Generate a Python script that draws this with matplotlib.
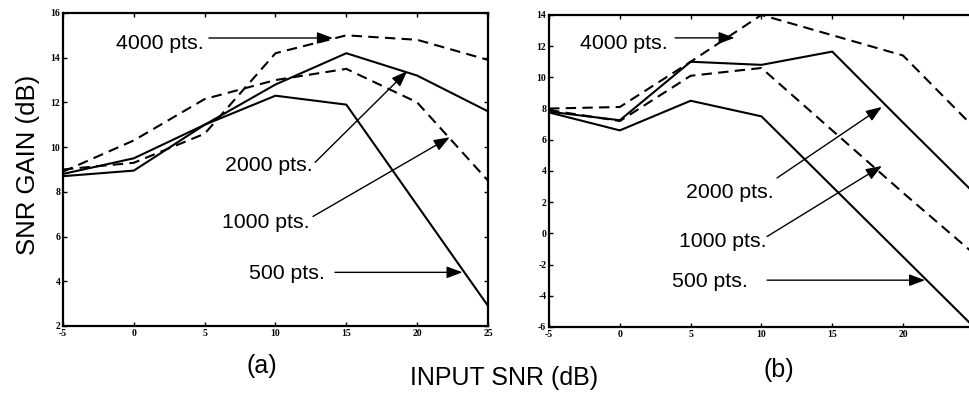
import matplotlib
matplotlib.use("Agg")
import matplotlib.pyplot as plt

# Input SNR values (dB) shared by both panels
snr_in = [-5, 0, 5, 10, 15, 20, 25]

# Panel (a): SNR gain (dB) by record length
gain_a_500 = [8.7, 8.95, 11.0, 12.3, 11.9, 7.4, 2.9]
gain_a_1000 = [8.9, 10.3, 12.15, 13.0, 13.5, 12.0, 8.5]
gain_a_2000 = [8.8, 9.5, 11.0, 12.8, 14.2, 13.2, 11.6]
gain_a_4000 = [9.0, 9.3, 10.6, 14.2, 15.0, 14.8, 13.9]

# Panel (b): SNR gain (dB) by record length
gain_b_500 = [7.75, 6.6, 8.5, 7.5, 3.0, -1.5, -6.0]
gain_b_1000 = [7.9, 7.2, 10.1, 10.6, 6.6, 2.6, -1.3]
gain_b_2000 = [7.8, 7.25, 11.0, 10.8, 11.65, 7.1, 2.6]
gain_b_4000 = [8.0, 8.1, 11.0, 14.0, 12.7, 11.4, 6.8]

labels = ["500 pts.", "1000 pts.", "2000 pts.", "4000 pts."]

# label text centre, arrow tail, arrow tip (data coords)
notes_a = {
    "4000 pts.": ((1.8, 14.64), (5.3, 14.88), (14.05, 14.88)),
    "2000 pts.": ((9.54, 9.19), (12.8, 9.32), (19.3, 13.4)),
    "1000 pts.": ((9.33, 6.63), (12.65, 6.9), (22.3, 10.44)),
    "500 pts.": ((10.77, 4.36), (14.2, 4.4), (23.2, 4.4)),
}
notes_b = {
    "4000 pts.": ((0.26, 12.2), (3.9, 12.53), (8.1, 12.53)),
    "2000 pts.": ((7.78, 2.59), (11.1, 3.55), (18.5, 8.1)),
    "1000 pts.": ((7.25, -0.55), (10.4, -0.2), (18.5, 4.32)),
    "500 pts.": ((6.37, -3.1), (10.4, -3.0), (21.55, -3.0)),
}

SANS = "Liberation Sans"
DASH = (0, (5, 3))

plt.rcParams["axes.unicode_minus"] = False

fig = plt.figure(figsize=(9.69, 3.93), dpi=100)
ax_a = fig.add_axes([0.065, 0.1705, 0.4386, 0.7965])
ax_b = fig.add_axes([0.5666, 0.168, 0.4384, 0.794])


def draw_panel(ax, series, notes, ylim, yticks):
    styles = ["-", DASH, "-", DASH]
    for ys, ls in zip(series, styles):
        ax.plot(snr_in, ys, color="black", lw=1.5, linestyle=ls)
    ax.set_xlim(-5, 25)
    ax.set_ylim(*ylim)
    ax.set_xticks(snr_in)
    ax.set_yticks(yticks)
    ax.tick_params(direction="in", length=3, width=1, top=True, right=True,
                   pad=2)
    for lab in ax.get_xticklabels() + ax.get_yticklabels():
        lab.set_fontfamily("Liberation Serif")
        lab.set_fontweight("bold")
        lab.set_fontsize(7)
    for sp in ax.spines.values():
        sp.set_linewidth(1.6)
    for text, (pos, tail, tip) in notes.items():
        ax.text(pos[0], pos[1], text, ha="center", va="center",
                fontsize=15.3, family=SANS)
        ax.annotate("", xy=tip, xytext=tail,
                    arrowprops=dict(arrowstyle="-|>,head_length=0.8,head_width=0.3",
                                    mutation_scale=12, lw=1, color="black",
                                    shrinkA=0, shrinkB=0))


draw_panel(ax_a, [gain_a_500, gain_a_1000, gain_a_2000, gain_a_4000],
           notes_a, (2, 16), range(2, 17, 2))
draw_panel(ax_b, [gain_b_500, gain_b_1000, gain_b_2000, gain_b_4000],
           notes_b, (-6, 14), range(-6, 15, 2))

fig.text(0.0284, 0.58, "SNR GAIN (dB)", rotation=90, ha="center", va="center",
         fontsize=18.5, family=SANS)
fig.text(0.5206, 0.038, "INPUT SNR (dB)", ha="center", va="center",
         fontsize=18, family=SANS)
fig.text(0.2704, 0.0687, "(a)", ha="center", va="center", fontsize=18, family=SANS)
fig.text(0.804, 0.0585, "(b)", ha="center", va="center", fontsize=18, family=SANS)

fig.savefig("out.png", dpi=100)
